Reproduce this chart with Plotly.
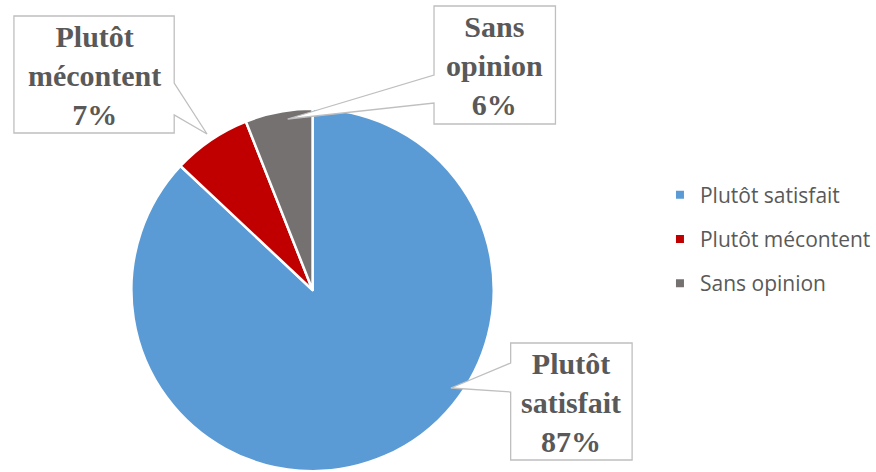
import plotly.graph_objects as go

# Data
labels = ["Plutôt satisfait", "Plutôt mécontent", "Sans opinion"]
values = [87, 7, 6]
colors = ["#5B9BD5", "#C00000", "#767171"]
callout_text = ["Plutôt<br>satisfait<br>87%", "Plutôt<br>mécontent<br>7%", "Sans<br>opinion<br>6%"]

W, H = 876, 472


def px(x, y):
    # pixel (top-left origin) -> paper coords
    return x / W, 1 - y / H


# Callout boxes in pixels: (x0, y0, x1, y1), pointer (side y a, side y b, tip)
callouts = [
    dict(box=(513, 343, 635, 460), side="left", a=363, b=392, tip=(453, 388)),
    dict(box=(14, 16, 175, 133), side="right", a=83, b=115, tip=(208, 134)),
    dict(box=(436, 6, 558, 124), side="left", a=75, b=103, tip=(289, 119)),
]

fig = go.Figure()
fig.add_trace(go.Pie(
    labels=labels, values=values, sort=False, direction="clockwise", rotation=0,
    marker=dict(colors=colors, line=dict(color="white", width=2.5)),
    textinfo="none", hoverinfo="label+percent", showlegend=False,
    domain=dict(x=[(314 - 182) / W, (314 + 182) / W], y=[0, (H - 108) / H]),
))

# Legend entries
for lab, col in zip(labels, colors):
    fig.add_trace(go.Scatter(
        x=[None], y=[None], mode="markers", name=lab, legendgroup=lab,
        marker=dict(symbol="square", size=8, color=col),
    ))

shapes = []
annotations = []
for c, txt in zip(callouts, callout_text):
    x0, y0, x1, y1 = c["box"]
    tx, ty = c["tip"]
    if c["side"] == "left":
        pts = [(x0, y0), (x1, y0), (x1, y1), (x0, y1), (x0, c["b"]), (tx, ty), (x0, c["a"])]
    else:
        pts = [(x0, y0), (x1, y0), (x1, c["a"]), (tx, ty), (x1, c["b"]), (x1, y1), (x0, y1)]
    path = "M " + " L ".join("%.5f,%.5f" % px(*p) for p in pts) + " Z"
    shapes.append(dict(type="path", path=path, xref="paper", yref="paper",
                       fillcolor="white", line=dict(color="#BFBFBF", width=1.3)))
    cx, cy = px((x0 + x1) / 2, (y0 + y1) / 2 + 1)
    annotations.append(dict(
        x=cx, y=cy, xref="paper", yref="paper", text="<b>" + txt + "</b>",
        showarrow=False, xanchor="center", yanchor="middle", align="center",
        font=dict(family="Liberation Serif", size=30, color="#595959"),
    ))

fig.update_layout(
    width=W, height=H,
    margin=dict(l=0, r=0, t=0, b=0),
    paper_bgcolor="white", plot_bgcolor="white",
    xaxis=dict(visible=False), yaxis=dict(visible=False),
    shapes=shapes, annotations=annotations,
    legend=dict(x=663 / W, y=1 - 239 / H, xanchor="left", yanchor="middle",
                font=dict(family="Open Sans", size=21, color="#595959"),
                tracegroupgap=14, itemwidth=30),
)

fig.write_html("out.html", config={"displayModeBar": False},
               post_script="document.body.style.margin='0';")
